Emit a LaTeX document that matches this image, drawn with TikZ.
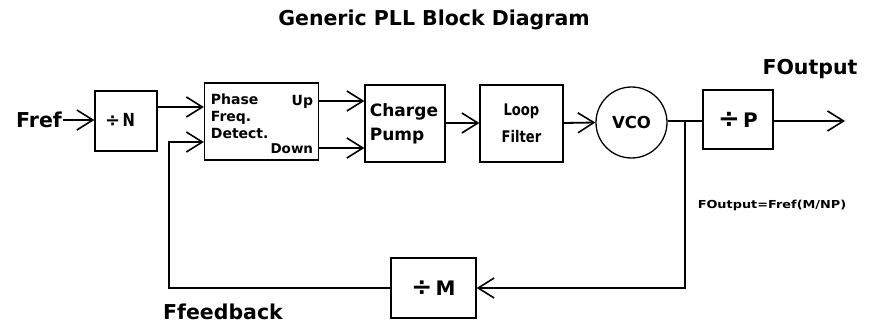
\documentclass[tikz,border=0pt]{standalone}
\usepackage{fontspec}
\setmainfont{DejaVu Sans}
\newfontfamily\widefont[FakeStretch=1.17]{DejaVu Sans}
\newfontfamily\narrowfont[FakeStretch=0.82]{DejaVu Sans}
\usetikzlibrary{arrows.meta}
\newcommand{\bigdiv}[1]{{\fontsize{#1}{#1}\selectfont ÷}}
\begin{document}
\begin{tikzpicture}[x=1pt,y=-1pt,line width=1.8pt,
  arr/.style={-{Straight Barb[length=16pt,width=20pt,line width=1.6pt]}},
  blk/.style={draw,line width=1.3pt,inner sep=0pt},
  lbl/.style={font=\bfseries\fontsize{20.5}{22}\selectfont,inner sep=0pt}]
\useasboundingbox[fill=white] (0,0) rectangle (871,324);
\node[lbl] (title) at (434,20) {Generic PLL Block Diagram};
\node[lbl] (fref) at (39,120) {Fref};
\node[blk,minimum width=62pt,minimum height=60pt] (N) at (126,121) {};
\node[inner sep=0pt,font=\bfseries\fontsize{15}{16}\selectfont] (Ntxt) at (120,120) {\bigdiv{18}\,{\narrowfont\bfseries\fontsize{18}{18}\selectfont N}};
\node[blk,minimum width=114pt,minimum height=77pt] (PFD) at (261.5,121.5) {};
\node[anchor=west,inner sep=0pt,font=\bfseries\fontsize{14}{17}\selectfont,align=left] (pfdtxt) at (210,116) {Phase\\Freq.\\Detect.};
\node[anchor=east,inner sep=0pt,font=\bfseries\fontsize{14}{15}\selectfont] (up) at (314,102) {Up};
\node[anchor=east,inner sep=0pt,font=\bfseries\fontsize{13.5}{15}\selectfont] (down) at (314,149) {Down};
\node[blk,minimum width=80pt,minimum height=77pt] (CP) at (405,123.5) {};
\node[anchor=west,inner sep=0pt,font=\bfseries\fontsize{17}{24}\selectfont,align=left] (cptxt) at (369,124) {Charge\\Pump};
\node[blk,minimum width=83pt,minimum height=77pt,font=\narrowfont\bfseries\fontsize{16}{27}\selectfont,align=center] (LF) at (521.5,123.5) {Loop\\Filter};
\node[blk,circle,minimum size=71pt,font=\bfseries\fontsize{16.5}{18}\selectfont] (VCO) at (631.5,122.5) {VCO};
\node[blk,minimum width=70pt,minimum height=59pt,font=\bfseries\fontsize{20}{21}\selectfont] (P) at (738,119.5) {\bigdiv{26}\,P};
\node[blk,minimum width=85pt,minimum height=60pt,font=\bfseries\fontsize{20}{21}\selectfont] (M) at (433.5,288) {\bigdiv{25}\,M};
\node[lbl] (fout) at (810,69) {FOutput};
\node[inner sep=0pt,font=\widefont\bfseries\fontsize{11}{12}\selectfont] (formula) at (772,205) {FOutput=Fref(M/NP)};
\node[lbl] (ffb) at (223,312) {Ffeedback};
\coordinate (out) at (845,121);
\coordinate (br) at (685,121);
\coordinate (brd) at (685,288);
\coordinate (fbl) at (169,288);
\coordinate (fbu) at (169,142);
\draw[arr] (fref.east) -- (N.west |- fref.east);
\draw[arr] (N.east |- 0,107) -- (PFD.west |- 0,107);
\draw[arr] (PFD.east |- 0,101) -- (CP.west |- 0,101);
\draw[arr] (PFD.east |- 0,148) -- (CP.west |- 0,148);
\draw[arr] (CP.east |- 0,123) -- (LF.west |- 0,123);
\draw[arr] (LF.east |- 0,123) -- (VCO.west);
\draw (VCO.east |- 0,121) -- (P.west |- 0,121);
\draw[arr] (P.east |- 0,121) -- (out);
\draw[arr] (br) -- (brd) -- (M.east |- brd);
\draw[arr] (M.west |- fbl) -- (fbl) -- (fbu) -- (PFD.west |- fbu);
\end{tikzpicture}
\end{document}
